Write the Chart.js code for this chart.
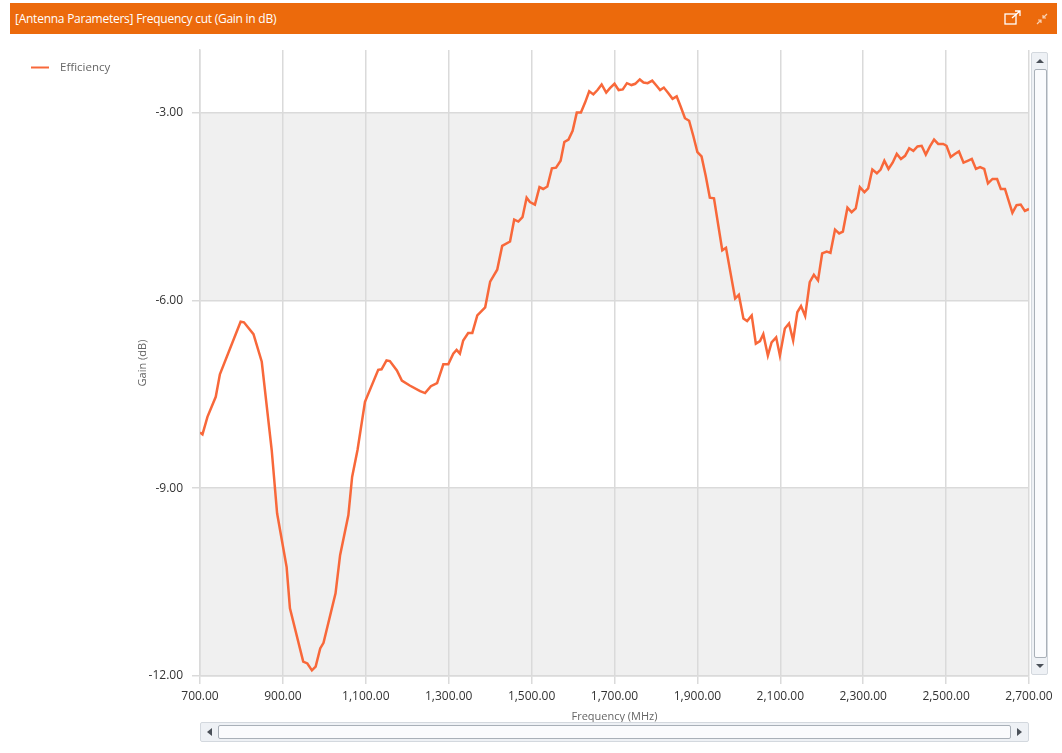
<!DOCTYPE html>
<html>
<head>
<meta charset="utf-8">
<script src="https://cdn.jsdelivr.net/npm/chart.js@4"></script>
<style>
  body { margin: 0; background: #fff; font-family: "Open Sans", "Noto Sans", sans-serif; }
  #wrap { position: relative; width: 1062px; height: 753px; overflow: hidden; }
  #chart { position: absolute; left: 0; top: 0; }
  #header { position: absolute; left: 10px; top: 3px; width: 1047px; height: 31px; background: #ec6a0c; z-index: 2; }
  #header .title { position: absolute; left: 5px; top: 7px; color: #fff; font-size: 12px; letter-spacing: -0.25px; }
  #header svg { position: absolute; }
  .vscroll { position: absolute; left: 1031px; top: 52px; width: 17px; height: 623px; background: #eef1f5; border: 1px solid #d3d8de; border-radius: 2px; box-sizing: border-box; z-index: 2; }
  .vthumb { position: absolute; left: 2px; top: 16px; width: 11px; bottom: 16px; background: #fafbfd; border: 1px solid #a9b0b8; border-radius: 2px; }
  .hscroll { position: absolute; left: 200px; top: 722px; width: 829px; height: 20px; background: #eef1f5; border: 1px solid #d3d8de; border-radius: 2px; box-sizing: border-box; z-index: 2; }
  .hthumb { position: absolute; top: 2px; bottom: 2px; left: 17px; right: 17px; background: #fafbfd; border: 1px solid #a9b0b8; border-radius: 2px; }
  .tri { position: absolute; width: 0; height: 0; }
</style>
</head>
<body>
<div id="wrap">
  <canvas id="chart" width="1062" height="753"></canvas>
  <div id="header">
    <div class="title">[Antenna Parameters] Frequency cut (Gain in dB)</div>
    <svg style="left:994px;top:7px" width="18" height="16" viewBox="0 0 18 16">
      <rect x="1" y="4" width="11" height="10" fill="none" stroke="#fff" stroke-width="1.3"/>
      <path d="M8 8 L16 1 M11 1 H16 V6" fill="none" stroke="#fff" stroke-width="1.3"/>
    </svg>
    <svg style="left:1026px;top:10px" width="12" height="12" viewBox="0 0 12 12">
      <path d="M11 1 L7 5 M7 2 V5 H10 M1 11 L5 7 M2 7 H5 V10" fill="none" stroke="#f9d0b0" stroke-width="1.2"/>
    </svg>
  </div>
  <div class="vscroll">
    <div class="tri" style="left:4px;top:6px;border-left:4px solid transparent;border-right:4px solid transparent;border-bottom:4px solid #4a5058;"></div>
    <div class="vthumb"></div>
    <div class="tri" style="left:4px;bottom:6px;border-left:4px solid transparent;border-right:4px solid transparent;border-top:4px solid #4a5058;"></div>
  </div>
  <div class="hscroll">
    <div class="tri" style="left:6px;top:5px;border-top:4px solid transparent;border-bottom:4px solid transparent;border-right:5px solid #4a5058;"></div>
    <div class="hthumb"></div>
    <div class="tri" style="right:6px;top:5px;border-top:4px solid transparent;border-bottom:4px solid transparent;border-left:5px solid #4a5058;"></div>
  </div>
</div>
<script>
// Frequency (MHz) and gain (dB)
var freqs = [700, 706, 718, 738, 748, 798, 806, 829, 849, 873, 886, 909, 917, 949, 959, 970, 979, 990, 998,
  1027, 1038, 1058, 1067, 1080, 1098, 1130, 1138, 1150, 1158, 1175, 1187, 1206, 1231, 1243, 1257, 1272, 1287, 1299,
  1311, 1319, 1327, 1335, 1347, 1357, 1369, 1388, 1400, 1417, 1429, 1448, 1458, 1468, 1478, 1488, 1496, 1508,
  1519, 1528, 1538, 1549, 1559, 1570, 1579, 1589, 1599, 1609, 1619, 1629, 1639, 1649, 1659, 1669, 1680, 1689,
  1700, 1710, 1720, 1730, 1741, 1750, 1761, 1770, 1780, 1791, 1800, 1810, 1819, 1830, 1840, 1850, 1860, 1870,
  1880, 1890, 1900, 1910, 1920, 1930, 1940, 1960, 1969, 1991, 2000, 2011, 2020, 2031, 2041, 2051, 2059, 2070,
  2079, 2090, 2099, 2111, 2121, 2131, 2141, 2150, 2160, 2171, 2181, 2191, 2201, 2212, 2221, 2232, 2242, 2251,
  2262, 2272, 2282, 2292, 2303, 2312, 2322, 2333, 2342, 2351, 2361, 2371, 2381, 2391, 2401, 2411, 2421, 2431,
  2441, 2451, 2461, 2471, 2481, 2493, 2501, 2511, 2521, 2531, 2542, 2552, 2562, 2572, 2582, 2592, 2601, 2612,
  2623, 2632, 2642, 2660, 2670, 2680, 2690, 2700];
var gains = [-8.11, -8.14, -7.86, -7.54, -7.18, -6.34, -6.35, -6.54, -6.98, -8.39, -9.40, -10.26, -10.92, -11.77, -11.80, -11.91, -11.85, -11.56, -11.47,
  -10.68, -10.07, -9.43, -8.82, -8.39, -7.62, -7.11, -7.10, -6.96, -6.97, -7.12, -7.28, -7.36, -7.45, -7.48, -7.37, -7.32, -7.02, -7.02,
  -6.85, -6.79, -6.85, -6.64, -6.52, -6.52, -6.24, -6.11, -5.70, -5.51, -5.13, -5.06, -4.71, -4.74, -4.67, -4.36, -4.43, -4.47,
  -4.19, -4.22, -4.18, -3.89, -3.88, -3.77, -3.47, -3.43, -3.29, -3.00, -3.00, -2.84, -2.66, -2.71, -2.64, -2.55, -2.68, -2.61,
  -2.54, -2.64, -2.63, -2.53, -2.56, -2.54, -2.47, -2.52, -2.53, -2.49, -2.56, -2.64, -2.60, -2.69, -2.78, -2.74, -2.91, -3.09,
  -3.13, -3.37, -3.63, -3.70, -4.01, -4.36, -4.37, -5.20, -5.16, -5.97, -5.91, -6.29, -6.33, -6.24, -6.69, -6.65, -6.54, -6.88,
  -6.67, -6.59, -6.88, -6.45, -6.37, -6.64, -6.19, -6.09, -6.25, -5.71, -5.59, -5.68, -5.25, -5.22, -5.24, -4.87, -4.93, -4.90,
  -4.52, -4.59, -4.53, -4.19, -4.27, -4.21, -3.91, -3.97, -3.91, -3.77, -3.90, -3.80, -3.66, -3.74, -3.69, -3.57, -3.61, -3.54,
  -3.53, -3.67, -3.54, -3.43, -3.50, -3.50, -3.53, -3.71, -3.66, -3.62, -3.80, -3.77, -3.74, -3.90, -3.87, -3.90, -4.13, -4.06,
  -4.06, -4.22, -4.22, -4.60, -4.48, -4.47, -4.57, -4.54];

var yTicks = [-12, -9, -6, -3];
var xTicks = [700, 900, 1100, 1300, 1500, 1700, 1900, 2100, 2300, 2500, 2700];
var bands = [[-6, -3], [-12, -9]];
var seriesName = 'Efficiency';
var lineColor = '#f8683a';

var fontFam = '"Open Sans", "Noto Sans", sans-serif';
var gridColor = '#dadada';

// gray bands behind the grid
var bandPlugin = {
  id: 'bands',
  beforeDraw: function(chart) {
    var ctx = chart.ctx, area = chart.chartArea, y = chart.scales.y;
    ctx.save();
    ctx.fillStyle = '#f0f0f0';
    for (var b of bands) {
      var top = y.getPixelForValue(b[1]), bot = y.getPixelForValue(b[0]);
      ctx.fillRect(area.left, top, area.right - area.left, bot - top);
    }
    ctx.restore();
  }
};

// legend drawn in the top-left corner
var legendPlugin = {
  id: 'sideLegend',
  afterDraw: function(chart) {
    var ctx = chart.ctx;
    ctx.save();
    ctx.strokeStyle = lineColor;
    ctx.lineWidth = 2;
    ctx.beginPath();
    ctx.moveTo(31, 67.5);
    ctx.lineTo(49, 67.5);
    ctx.stroke();
    ctx.fillStyle = '#666';
    ctx.font = '11.5px ' + fontFam;
    ctx.textBaseline = 'middle';
    ctx.fillText(chart.data.datasets[0].label, 60, 68);
    ctx.restore();
  }
};

var points = freqs.map(function(f, i) { return {x: f, y: gains[i]}; });

new Chart(document.getElementById('chart'), {
  type: 'line',
  data: {
    datasets: [{
      label: seriesName,
      data: points,
      borderColor: lineColor,
      borderWidth: 2.5,
      pointRadius: 0,
      tension: 0,
      fill: false
    }]
  },
  options: {
    responsive: false,
    animation: false,
    layout: { padding: { top: 50, left: 132, right: 33, bottom: 27 } },
    plugins: { legend: { display: false }, tooltip: { enabled: false } },
    scales: {
      x: {
        type: 'linear',
        min: 700,
        max: 2700,
        afterFit: function(s) { s.height = 50; },
        afterBuildTicks: function(s) { s.ticks = xTicks.map(function(v) { return {value: v}; }); },
        ticks: {
          color: '#333',
          font: { family: fontFam, size: 12 },
          padding: 5,
          maxRotation: 0,
          callback: function(v) { return v.toLocaleString('en-US', {minimumFractionDigits: 2, maximumFractionDigits: 2}); }
        },
        grid: { color: gridColor, lineWidth: 1.5, tickLength: 8, tickColor: gridColor },
        border: { color: gridColor, width: 1.5 },
        title: { display: true, text: 'Frequency (MHz)', color: '#666', font: { family: fontFam, size: 11 }, padding: { top: 0, bottom: 3 } }
      },
      y: {
        type: 'linear',
        min: -12,
        max: -2,
        afterFit: function(s) { s.width = 68; },
        afterBuildTicks: function(s) { s.ticks = yTicks.map(function(v) { return {value: v}; }); },
        ticks: {
          color: '#333',
          font: { family: fontFam, size: 12 },
          padding: 9,
          callback: function(v) { return v.toFixed(2); }
        },
        grid: { color: gridColor, lineWidth: 1.5, tickLength: 8, tickColor: gridColor },
        border: { color: gridColor, width: 1.5 },
        title: { display: true, text: 'Gain (dB)', color: '#666', font: { family: fontFam, size: 11 }, padding: { top: 4, bottom: 0 } }
      }
    }
  },
  plugins: [bandPlugin, legendPlugin]
});
</script>
</body>
</html>
